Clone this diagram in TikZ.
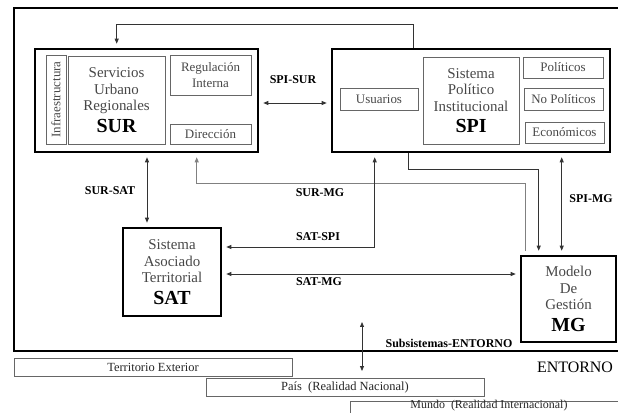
\documentclass[tikz,border=0pt]{standalone}
\usepackage{fontspec}
\setmainfont{Liberation Serif}
\usetikzlibrary{arrows.meta}
\definecolor{textgray}{gray}{0.28}
\definecolor{boxgray}{gray}{0.4}
\definecolor{linegray}{gray}{0.2}
\newcommand{\sysname}[1]{\textcolor{black}{\bfseries\fontsize{20}{22}\selectfont #1}}

\begin{document}
\begin{tikzpicture}[x=1bp,y=-1bp]
\tikzset{
  mainbox/.style={draw=black,line width=2.6pt,inner sep=0pt,align=center,text=textgray,font=\fontsize{15}{16.5}\selectfont},
  corebox/.style={draw=boxgray,line width=0.9pt,inner sep=0pt,align=center,text=textgray,font=\fontsize{15}{16.5}\selectfont},
  partbox/.style={draw=boxgray,line width=0.9pt,inner sep=0pt,align=center,text=textgray,font=\fontsize{13}{15.5}\selectfont},
  bandbox/.style={draw=boxgray,line width=0.9pt,inner sep=0pt,text=black!85,font=\fontsize{12.5}{14}\selectfont,minimum width=278bp,minimum height=18bp},
  linklabel/.style={font=\bfseries\fontsize{12}{14}\selectfont,inner sep=1pt},
  frameline/.style={draw=black,line width=2.6pt},
  graphedge/.style={draw=linegray,line width=0.8pt},
  directed/.style={graphedge,-{Triangle[length=5pt,width=4pt]},shorten >=4bp},
  bidirected/.style={graphedge,{Triangle[length=5pt,width=4pt]}-{Triangle[length=5pt,width=4pt]},shorten >=4bp,shorten <=4bp}
}
\useasboundingbox (0,0) rectangle (618,412);
\clip (0,0) rectangle (618,412);
% subsystems frame
\draw[frameline] (618,8) -- (14,8) -- (14,351) -- (618,351);
% SUR
\node[mainbox,minimum width=223bp,minimum height=103bp] (sur) at (146.5,100.5) {};
\node[partbox,rotate=90,minimum width=89bp,minimum height=20bp] (infra) at (56,99.5) {Infraestructura};
\node[corebox,minimum width=97bp,minimum height=88bp] (serv) at (116.5,100) {Servicios\\Urbano\\Regionales\\[5pt]\sysname{SUR}};
\node[partbox,minimum width=81bp,minimum height=40bp] (regul) at (210.5,75) {Regulación\\Interna};
\node[partbox,minimum width=81bp,minimum height=20bp] (direc) at (210.5,134) {Dirección};
% SPI
\node[mainbox,minimum width=278bp,minimum height=103bp] (spi) at (471,100.5) {};
\node[partbox,minimum width=78bp,minimum height=22bp] (usua) at (379,99) {Usuarios};
\node[corebox,minimum width=96bp,minimum height=87bp] (sistpol) at (471,100.5) {Sistema\\Político\\Institucional\\[5pt]\sysname{SPI}};
\node[partbox,minimum width=80bp,minimum height=21bp] (polit) at (563,67.5) {Políticos};
\node[partbox,minimum width=79bp,minimum height=22bp] (nopolit) at (563.5,99) {No Políticos};
\node[partbox,minimum width=79bp,minimum height=21bp] (econ) at (564.5,132.5) {Económicos};
% SAT and MG
\node[mainbox,minimum width=98bp,minimum height=88bp] (sat) at (172,272) {Sistema\\Asociado\\Territorial\\[5pt]\sysname{SAT}};
\node[mainbox,minimum width=95bp,minimum height=86bp] (mg) at (568.5,299) {Modelo\\De\\Gestión\\[5pt]\sysname{MG}};
% entorno
\node[bandbox] (terr) at (153,367) {Territorio Exterior};
\node[bandbox] (pais) at (345,387) {País \ (Realidad Nacional)};
\node[bandbox,font=\fontsize{12}{14}\selectfont,minimum height=14bp,text height=7bp,text depth=7bp] (mundo) at (489,408.5) {Mundo \ (Realidad Internacional)};
\node[font=\fontsize{16}{18}\selectfont,inner sep=0pt] (entorno) at (575,367) {ENTORNO};
% labels
\node[linklabel] (l_spisur) at (293,80) {SPI-SUR};
\node[linklabel] (l_sursat) at (110,191) {SUR-SAT};
\node[linklabel] (l_surmg) at (320,193) {SUR-MG};
\node[linklabel] (l_satspi) at (318,237) {SAT-SPI};
\node[linklabel] (l_satmg) at (319,282) {SAT-MG};
\node[linklabel] (l_spimg) at (591,199) {SPI-MG};
\node[linklabel] (l_subent) at (449,343) {Subsistemas-ENTORNO};
\coordinate (ent_top) at (362,318);
\coordinate (ent_bot) at (362,375);
% relations
\draw[directed] ([xshift=83bp]spi.north west) -- ++(0,-23) -| ([xshift=83bp]sur.north west);
\draw[bidirected] ([yshift=-2.5bp]sur.east) -- ([yshift=-2.5bp]spi.west);
\draw[bidirected] ([xshift=-25bp]sat.north) -- ([xshift=-25bp]sat.north |- sur.south);
\draw[directed,draw=gray,shorten <=4bp] ([xshift=6bp]mg.north west) -- ++(0,-71) -| ([xshift=163bp]sur.south west);
\draw[directed] ([xshift=78bp]spi.south west) -- ++(0,16) -| ([xshift=19bp]mg.north west);
\draw[bidirected] ([xshift=44bp]spi.south west) |- ([yshift=25bp]sat.east);
\draw[bidirected] ([yshift=-2bp]sat.east) -- ([yshift=-2bp]sat.east -| mg.west);
\draw[bidirected] ([xshift=42bp]mg.north west) -- ([xshift=42bp]mg.north west |- spi.south);
\draw[bidirected] (ent_top) -- (ent_bot);
\end{tikzpicture}
\end{document}
